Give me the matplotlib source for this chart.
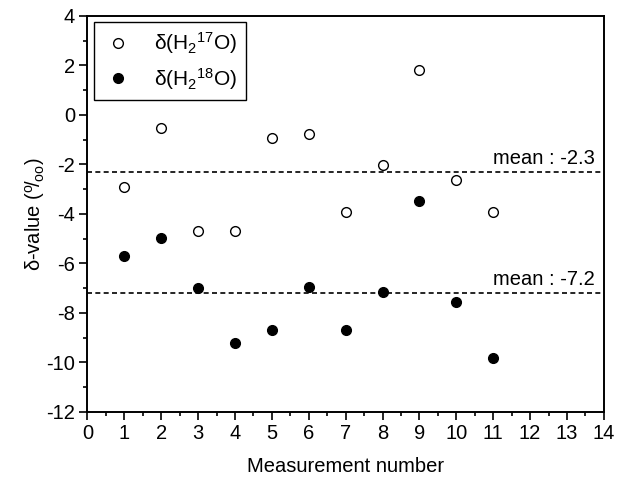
import matplotlib
matplotlib.use("Agg")
import matplotlib.pyplot as plt
from matplotlib.ticker import MultipleLocator

plt.rcParams['font.family'] = ['Liberation Sans', 'DejaVu Sans']
plt.rcParams['mathtext.fontset'] = 'custom'
plt.rcParams['mathtext.rm'] = 'Liberation Sans'
plt.rcParams['mathtext.it'] = 'Liberation Sans'
plt.rcParams['mathtext.default'] = 'regular'
plt.rcParams['axes.unicode_minus'] = False

measurement = [1, 2, 3, 4, 5, 6, 7, 8, 9, 10, 11]
d17 = [-2.90, -0.52, -4.70, -4.67, -0.95, -0.79, -3.93, -2.02, 1.80, -2.63, -3.91]
d18 = [-5.71, -4.99, -6.99, -9.23, -8.68, -6.95, -8.71, -7.15, -3.49, -7.57, -9.82]
mean17 = -2.3
mean18 = -7.2
label17 = r'$\delta$(H$_2$$^{17}$O)'
label18 = r'$\delta$(H$_2$$^{18}$O)'

fig = plt.figure(figsize=(6.29, 4.84), dpi=100)
ax = fig.add_axes([0.139, 0.149, 0.821, 0.818])

ax.plot(measurement, d17, 'o', mfc='white', mec='black', ms=7, mew=1.0, label=label17, zorder=3)
ax.plot(measurement, d18, 'o', mfc='black', mec='black', ms=7, mew=1.0, label=label18, zorder=3)

ax.axhline(mean17, color='black', ls=(0, (3, 2)), lw=1.2)
ax.axhline(mean18, color='black', ls=(0, (3, 2)), lw=1.2)
ax.annotate('mean : %.1f' % mean17, xy=(13.75, mean17), xytext=(0, 3), textcoords='offset points',
            ha='right', va='bottom', fontsize=14.5)
ax.annotate('mean : %.1f' % mean18, xy=(13.75, mean18), xytext=(0, 3), textcoords='offset points',
            ha='right', va='bottom', fontsize=14.5)

ax.set_xlim(0, 14)
ax.set_ylim(-12, 4)
ax.xaxis.set_major_locator(MultipleLocator(1))
ax.xaxis.set_minor_locator(MultipleLocator(0.5))
ax.yaxis.set_major_locator(MultipleLocator(2))
ax.yaxis.set_minor_locator(MultipleLocator(1))
ax.tick_params(which='both', direction='out', top=False, right=False, labelsize=14.5, width=1.2)
ax.tick_params(which='major', length=6, pad=3)
ax.tick_params(which='minor', length=3)
for s in ax.spines.values():
    s.set_linewidth(1.4)

ax.set_xlabel('Measurement number', fontsize=14.5, labelpad=10)
ax.set_ylabel(r'$\delta$-value ($^{o}\!/_{oo}$)', fontsize=14.5, labelpad=-1)

leg = ax.legend(loc='upper left', fontsize=15, frameon=True, fancybox=False, edgecolor='black',
                framealpha=1, borderaxespad=0.3, handletextpad=1.0, handlelength=1.5,
                borderpad=0.4, labelspacing=0.45)
leg.get_frame().set_linewidth(1.0)

fig.savefig('out.png', dpi=100)
